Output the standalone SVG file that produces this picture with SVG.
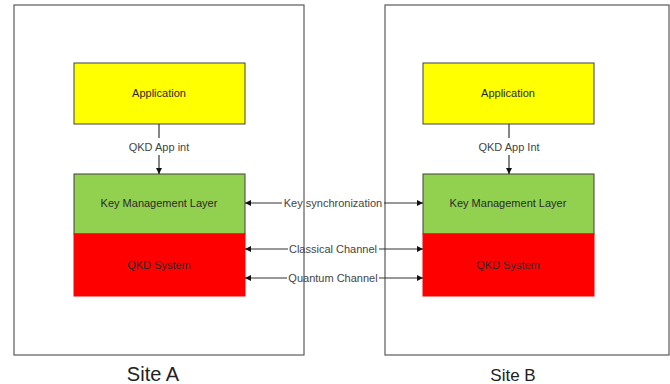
<svg xmlns="http://www.w3.org/2000/svg" width="670" height="384" viewBox="0 0 670 384">
  <style>
    .site { fill: #ffffff; stroke: #5a5a5a; stroke-width: 1.2; }
    .box { stroke: #404040; stroke-width: 1; }
    .app { fill: #ffff00; }
    .kml { fill: #92d050; }
    .qkd { fill: #ff0000; stroke: #ff0000; }
    .lbl { font-family: "Liberation Sans", Arial, sans-serif; font-size: 11px; fill: #2a2a2a; text-anchor: middle; }
    .clbl { font-family: "Liberation Sans", Arial, sans-serif; font-size: 11px; fill: #444444; text-anchor: middle; }
    .sitelbl { font-family: "Liberation Sans", Arial, sans-serif; fill: #222222; text-anchor: middle; }
    .conn { stroke: #333333; stroke-width: 1.2; fill: none; }
  </style>
  <defs>
    <marker id="arrow" viewBox="0 0 10 10" refX="10" refY="5" markerWidth="8" markerHeight="6" markerUnits="userSpaceOnUse" orient="auto">
      <path d="M0,0 L10,5 L0,10 Z" fill="#111111"/>
    </marker>
  </defs>
  <rect width="670" height="384" fill="#ffffff"/>

  <g id="site-a">
    <rect class="site" x="14" y="5" width="290" height="350"/>
    <text class="sitelbl" x="153" y="381" font-size="20">Site A</text>
  </g>
  <g id="site-b">
    <rect class="site" x="385" y="5" width="284" height="350"/>
    <text class="sitelbl" x="513" y="381" font-size="17">Site B</text>
  </g>

  <g id="app-a">
    <rect class="box app" x="74" y="63" width="171" height="61"/>
    <text class="lbl" x="159" y="97">Application</text>
  </g>
  <g id="kml-a">
    <rect class="box kml" x="74" y="174" width="171" height="60"/>
    <text class="lbl" x="159" y="207">Key Management Layer</text>
  </g>
  <g id="qkd-a">
    <rect class="qkd" x="74" y="234" width="171" height="62"/>
    <text class="lbl" x="159" y="269">QKD System</text>
  </g>

  <g id="app-b">
    <rect class="box app" x="423" y="63" width="171" height="61"/>
    <text class="lbl" x="508" y="97">Application</text>
  </g>
  <g id="kml-b">
    <rect class="box kml" x="423" y="174" width="171" height="60"/>
    <text class="lbl" x="508" y="207">Key Management Layer</text>
  </g>
  <g id="qkd-b">
    <rect class="qkd" x="423" y="234" width="171" height="62"/>
    <text class="lbl" x="508" y="269">QKD System</text>
  </g>

  <g id="connectors">
    <!-- application to key management, both sites -->
    <path class="conn" d="M159,124 V138"/>
    <path class="conn" d="M159,155 V174" marker-end="url(#arrow)"/>
    <text class="clbl" x="159" y="151">QKD App int</text>
    <path class="conn" d="M509,124 V138"/>
    <path class="conn" d="M509,155 V174" marker-end="url(#arrow)"/>
    <text class="clbl" x="509" y="151">QKD App Int</text>

    <!-- links between sites -->
    <path class="conn" d="M282,203 H245" marker-end="url(#arrow)"/>
    <path class="conn" d="M384,203 H423" marker-end="url(#arrow)"/>
    <text class="clbl" x="333" y="207">Key synchronization</text>

    <path class="conn" d="M288,249 H245" marker-end="url(#arrow)"/>
    <path class="conn" d="M379,249 H423" marker-end="url(#arrow)"/>
    <text class="clbl" x="333" y="253">Classical Channel</text>

    <path class="conn" d="M287,278 H245" marker-end="url(#arrow)"/>
    <path class="conn" d="M379,278 H423" marker-end="url(#arrow)"/>
    <text class="clbl" x="333" y="282">Quantum Channel</text>
  </g>
</svg>
